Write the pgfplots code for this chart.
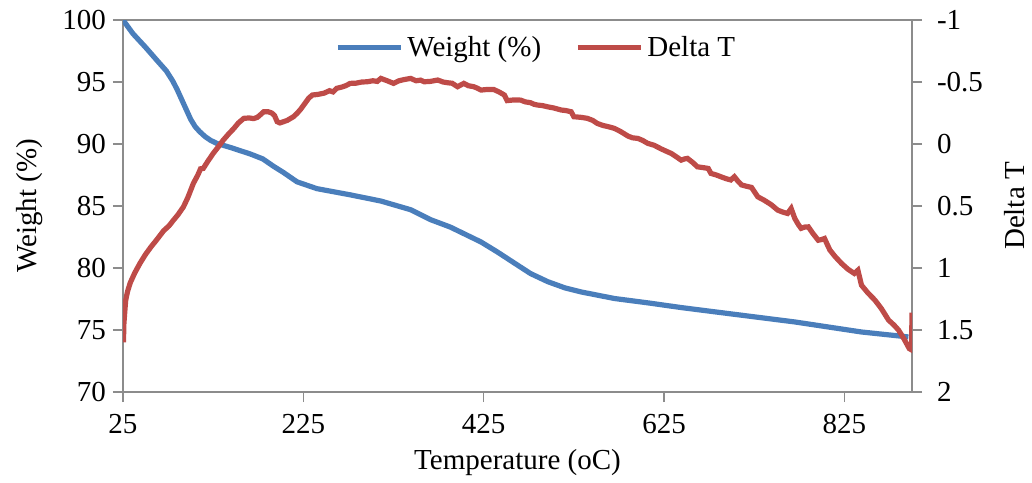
\documentclass[border=0pt]{standalone}
\usepackage{pgfplots}
\pgfplotsset{compat=1.18}
\usepackage{fontspec}
\setmainfont{Liberation Serif}
\definecolor{wblue}{HTML}{4A7EBB}
\definecolor{dred}{HTML}{BE4B48}
\definecolor{axgray}{HTML}{8C8C8C}
\begin{document}
\begin{tikzpicture}
\pgfplotsset{
  every axis/.append style={font=\fontsize{14.5}{16}\selectfont},
  /pgf/number format/assume math mode=true,
}
\begin{axis}[name=ax, scale only axis, width=394.5pt, height=186pt,
  xmin=25, xmax=900, ymin=70, ymax=100,
  xtick={25,225,425,625,825}, ytick={70,75,80,85,90,95,100},
  tick align=outside, xtick pos=bottom, ytick pos=left, major tick length=5pt,
  axis line style={axgray, line width=0.6pt},
  major tick style={axgray, line width=0.6pt},
  xticklabel style={yshift=-2.5pt},
  xlabel={Temperature (oC)}, ylabel={Weight (\%)},
  xlabel style={at={(axis description cs:0.5,0)}, anchor=center, yshift=-35.5pt},
  ylabel style={at={(axis description cs:0,0.5)}, anchor=center, yshift=46.5pt},
  legend style={draw=none, fill=none, at={(axis description cs:0.525,0.925)}, anchor=center,
    legend columns=2, /tikz/every even column/.append style={column sep=15pt},
    cells={anchor=west}, inner sep=1pt},
  legend image code/.code={\draw[#1] (0pt,0pt) -- (31.5pt,0pt);},
]
\addplot[wblue, line width=2.6pt] coordinates {
(25,100) (27,99.8) (36,98.9) (50,97.8) (62,96.8) (73,95.9) (80,95.1) (85,94.4) (90,93.6)
(95,92.8) (100,92.0) (105,91.4) (110,91.0) (116,90.6) (122,90.3)
(129,90.05) (145,89.7) (166,89.2) (180,88.8) (192,88.2) (203,87.7)
(218,86.95) (240,86.4) (277,85.9) (311,85.4) (344,84.7) (366,83.9) (388,83.3) (422,82.1)
(440,81.3) (459,80.4) (477,79.55) (496,78.9) (515,78.4) (533,78.07) (570,77.54) (607,77.19)
(644,76.81) (696,76.33) (770,75.65) (844,74.84) (896,74.44)
};
\addlegendentry{Weight (\%)}
\addlegendimage{dred, line width=2.6pt}
\addlegendentry{Delta T}
\end{axis}
\begin{axis}[scale only axis, width=394.5pt, height=186pt,
  xmin=25, xmax=900, ymin=-1, ymax=2, y dir=reverse,
  axis x line=none, axis y line*=right,
  ytick={-1,-0.5,0,0.5,1,1.5,2},
  yticklabels={-1,-0.5,0,0.5,1,1.5,2},
  yticklabel style={xshift=4pt},
  tick align=outside, major tick length=5pt,
  axis line style={axgray, line width=0.6pt},
  major tick style={axgray, line width=0.6pt},
  ylabel={Delta T},
  ylabel style={at={(axis description cs:1,0.5)}, anchor=center, yshift=-51.5pt},
]
\addplot[dred, line width=2.6pt] coordinates {
(25.5,1.60) (26,1.45) (27,1.35) (28,1.26) (30,1.19) (33,1.12) (38,1.04) (44,0.96) (50,0.89)
(56,0.83) (62,0.776) (70,0.70) (76,0.66) (81,0.614) (86,0.57) (92,0.507) (97,0.43) (103,0.318)
(108,0.25) (111,0.20) (114,0.197) (119,0.14) (125,0.076) (131,0.02) (136,-0.03) (142,-0.08)
(148,-0.126) (153,-0.17) (159,-0.207) (165,-0.21) (170,-0.205) (174,-0.215) (178,-0.24)
(181,-0.26) (186,-0.26) (190,-0.25) (193,-0.23) (196,-0.18) (199,-0.17) (203,-0.18) (207,-0.19)
(211,-0.207) (214,-0.22) (218,-0.247) (222,-0.28) (226,-0.32) (231,-0.37) (235,-0.395)
(241,-0.40) (248,-0.41) (254,-0.43) (258,-0.42) (262,-0.449) (268,-0.46) (272,-0.47)
(277,-0.489) (283,-0.49) (290,-0.50) (296,-0.502) (302,-0.51) (307,-0.505) (311,-0.529)
(318,-0.51) (325,-0.489) (331,-0.51) (337,-0.52) (344,-0.529) (350,-0.51) (355,-0.515)
(359,-0.502) (366,-0.505) (374,-0.516) (380,-0.50) (385,-0.494) (390,-0.49) (396,-0.462)
(403,-0.489) (408,-0.47) (414,-0.462) (418,-0.45) (422,-0.435) (429,-0.44) (436,-0.44)
(442,-0.42) (448,-0.395) (451,-0.35) (458,-0.355) (466,-0.354) (471,-0.34) (477,-0.333)
(481,-0.32) (485,-0.314) (490,-0.31) (496,-0.30) (503,-0.29) (511,-0.274) (516,-0.27)
(522,-0.26) (525,-0.22) (533,-0.215) (540,-0.207) (546,-0.19) (551,-0.166) (557,-0.15)
(563,-0.14) (570,-0.126) (577,-0.10) (585,-0.064) (590,-0.05) (596,-0.045) (601,-0.03)
(607,-0.005) (614,0.01) (622,0.04) (628,0.06) (633,0.076) (638,0.10) (644,0.13) (648,0.12)
(651,0.116) (657,0.15) (662,0.184) (668,0.19) (674,0.197) (677,0.237) (683,0.25) (688,0.264)
(694,0.28) (699,0.29) (703,0.264) (707,0.30) (711,0.33) (716,0.34) (722,0.35) (729,0.426)
(736,0.453) (744,0.49) (751,0.533) (757,0.55) (762,0.56) (766,0.52) (770,0.60) (774,0.65)
(777,0.68) (781,0.67) (785,0.668) (790,0.72) (796,0.776) (800,0.77) (803,0.762) (806,0.81)
(809,0.856) (815,0.91) (822,0.964) (829,1.01) (836,1.044) (840,1.018) (844,1.139) (851,1.20)
(859,1.26) (866,1.327) (874,1.42) (880,1.46) (885,1.50) (891,1.57) (897,1.65) (899.5,1.66)
(900,1.36)
};
\end{axis}
\pgfresetboundingbox
\path ([xshift=-61.5pt,yshift=-45pt]ax.south west) rectangle ([xshift=60pt,yshift=10pt]ax.north east);
\end{tikzpicture}
\end{document}
